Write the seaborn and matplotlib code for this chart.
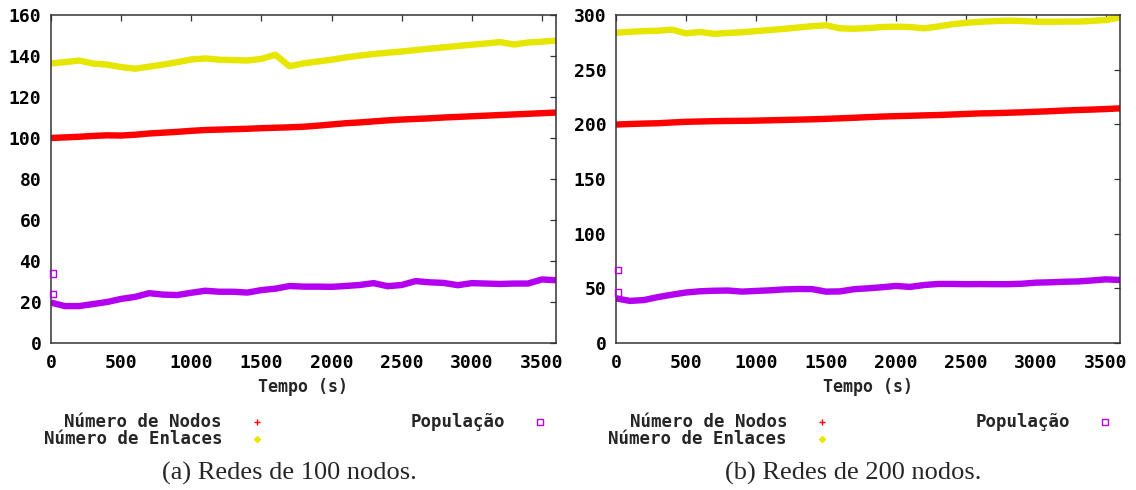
import numpy as np
import pandas as pd
import matplotlib
matplotlib.use("Agg")
import matplotlib.pyplot as plt
from matplotlib.lines import Line2D
import seaborn as sns

# Sampling instants (s)
tempo = [0, 100, 200, 300, 400, 500, 600, 700, 800, 900, 1000, 1100, 1200,
         1300, 1400, 1500, 1600, 1700, 1800, 1900, 2000, 2100, 2200, 2300,
         2400, 2500, 2600, 2700, 2800, 2900, 3000, 3100, 3200, 3300, 3400,
         3500, 3600]

# Redes de 100 nodos
nodos_100 = [100.0, 100.3, 100.6, 101.0, 101.3, 101.2, 101.6, 102.2, 102.6,
             103.0, 103.5, 103.9, 104.1, 104.3, 104.5, 104.8, 105.0, 105.2,
             105.5, 106.0, 106.6, 107.2, 107.6, 108.1, 108.6, 109.0, 109.3,
             109.6, 110.0, 110.3, 110.6, 110.9, 111.2, 111.5, 111.8, 112.1,
             112.4]
enlaces_100 = [136.4, 137.0, 137.8, 136.3, 135.8, 134.6, 133.8, 134.8, 135.8,
               137.0, 138.3, 138.8, 138.2, 138.0, 137.8, 138.6, 140.6, 135.0,
               136.4, 137.3, 138.2, 139.3, 140.2, 141.0, 141.6, 142.2, 142.9,
               143.6, 144.2, 144.9, 145.5, 146.1, 146.8, 145.6, 146.6, 147.0,
               147.5]
populacao_100 = [19.7, 18.0, 18.0, 19.0, 20.0, 21.5, 22.5, 24.3, 23.6, 23.4,
                 24.5, 25.5, 25.0, 25.0, 24.6, 25.8, 26.5, 27.8, 27.5, 27.5,
                 27.4, 27.8, 28.3, 29.2, 27.7, 28.3, 30.2, 29.6, 29.3, 28.2,
                 29.2, 29.0, 28.8, 29.0, 29.0, 31.0, 30.6]
populacao_100_inicio = [34.0, 24.0]

# Redes de 200 nodos
nodos_200 = [199.8, 200.3, 200.7, 201.0, 201.7, 202.3, 202.6, 202.9, 203.1,
             203.2, 203.4, 203.7, 204.0, 204.3, 204.6, 205.0, 205.5, 206.0,
             206.6, 207.1, 207.5, 207.8, 208.2, 208.5, 209.0, 209.5, 210.0,
             210.2, 210.6, 211.0, 211.5, 212.0, 212.6, 213.1, 213.5, 214.0,
             214.6]
enlaces_200 = [283.8, 284.6, 285.3, 285.6, 286.6, 283.2, 284.5, 282.8, 283.6,
               284.2, 285.3, 286.3, 287.3, 288.5, 289.8, 290.6, 287.8, 287.4,
               288.0, 289.0, 289.3, 289.0, 287.8, 289.5, 291.5, 292.8, 293.8,
               294.4, 294.8, 294.5, 293.9, 293.8, 294.0, 294.0, 294.6, 295.4,
               297.8]
populacao_200 = [40.8, 38.5, 39.3, 42.0, 44.2, 46.2, 47.3, 47.8, 48.0, 47.0,
                 47.6, 48.2, 49.0, 49.4, 49.3, 47.0, 47.2, 49.2, 50.0, 51.0,
                 52.2, 51.3, 53.0, 54.0, 54.0, 53.8, 53.9, 53.8, 53.8, 54.2,
                 55.2, 55.5, 56.0, 56.3, 57.2, 58.2, 57.6]
populacao_200_inicio = [66.8, 46.0]

series_labels = ["Número de Nodos", "Número de Enlaces", "População"]
captions = ["(a) Redes de 100 nodos.", "(b) Redes de 200 nodos."]
y_limits = [(0, 160), (0, 300)]
y_steps = [20, 50]
x_ticks = [0, 500, 1000, 1500, 2000, 2500, 3000, 3500]

RED = "#ff0000"
YELLOW = "#e6e600"
PURPLE = "#b400f0"

sns.set_theme(style="white")
plt.rcParams["font.family"] = ["DejaVu Sans Mono", "DejaVu Sans"]

W, H = 1136, 490
fig = plt.figure(figsize=(W / 100, H / 100), dpi=100)

panels = [
    (nodos_100, enlaces_100, populacao_100, populacao_100_inicio),
    (nodos_200, enlaces_200, populacao_200, populacao_200_inicio),
]
axes_px = [(51, 556), (616, 1120)]
caption_cx = [289, 853]
top_px, bottom_px = 15, 343

for i, (nod, enl, pop, pop0) in enumerate(panels):
    x0, x1 = axes_px[i]
    ax = fig.add_axes([x0 / W, 1 - bottom_px / H, (x1 - x0) / W,
                       (bottom_px - top_px) / H])
    df = pd.DataFrame({"tempo": tempo, "nodos": nod, "enlaces": enl,
                       "pop": pop})
    band = 4.6
    sns.lineplot(data=df, x="tempo", y="nodos", ax=ax, color=RED,
                 linewidth=band, solid_capstyle="butt")
    sns.lineplot(data=df, x="tempo", y="enlaces", ax=ax, color=YELLOW,
                 linewidth=band, solid_capstyle="butt")
    sns.lineplot(data=df, x="tempo", y="pop", ax=ax, color=PURPLE,
                 linewidth=band, solid_capstyle="butt")
    init = pd.DataFrame({"tempo": [15] * len(pop0), "pop": pop0})
    sns.scatterplot(data=init, x="tempo", y="pop", ax=ax, marker="s",
                    s=22, facecolor="none", edgecolor=PURPLE, linewidth=1.0,
                    clip_on=False, zorder=4)

    ax.set_xlim(0, 3600)
    ax.set_ylim(*y_limits[i])
    ax.set_xticks(x_ticks)
    ax.set_yticks(np.arange(y_limits[i][0], y_limits[i][1] + 1, y_steps[i]))
    ax.tick_params(axis="both", direction="in", length=4, width=0.9,
                   color="#333333", top=True, right=True, labelsize=13,
                   labelcolor="black")
    ax.tick_params(axis="x", pad=8)
    ax.tick_params(axis="y", pad=7)
    for lab in ax.get_xticklabels() + ax.get_yticklabels():
        lab.set_fontweight("bold")
    for sp in ax.spines.values():
        sp.set_visible(True)
        sp.set_color("#333333")
        sp.set_linewidth(1.1)
    ax.set_ylabel("")
    ax.set_xlabel("Tempo (s)", fontsize=12, fontweight="bold", labelpad=4)
    ax.grid(False)

    # Key below the plot: text right-aligned, sample point to its right
    key_rows = [
        (x0 + 171, 422, series_labels[0], dict(marker="+", color=RED,
                                              markersize=5, mew=1.0)),
        (x0 + 171, 439, series_labels[1], dict(marker="D", color=YELLOW,
                                              markersize=3.5, mew=0.5)),
        (x0 + 454, 422, series_labels[2], dict(marker="s", color=PURPLE,
                                              markerfacecolor="none",
                                              markersize=4.5, mew=1.0)),
    ]
    for tx, ty, label, mk in key_rows:
        fig.text(tx / W, 1 - ty / H, label, ha="right", va="center",
                 fontsize=12.5, fontweight="bold")
        fig.add_artist(Line2D([(tx + 35) / W], [1 - ty / H],
                              linestyle="none", transform=fig.transFigure,
                              **mk))

    fig.text(caption_cx[i] / W, 1 - 473 / H, captions[i], ha="center",
             va="center", fontsize=19,
             family=["Liberation Serif", "DejaVu Serif"])

fig.savefig("out.png", dpi=100, facecolor="white")
